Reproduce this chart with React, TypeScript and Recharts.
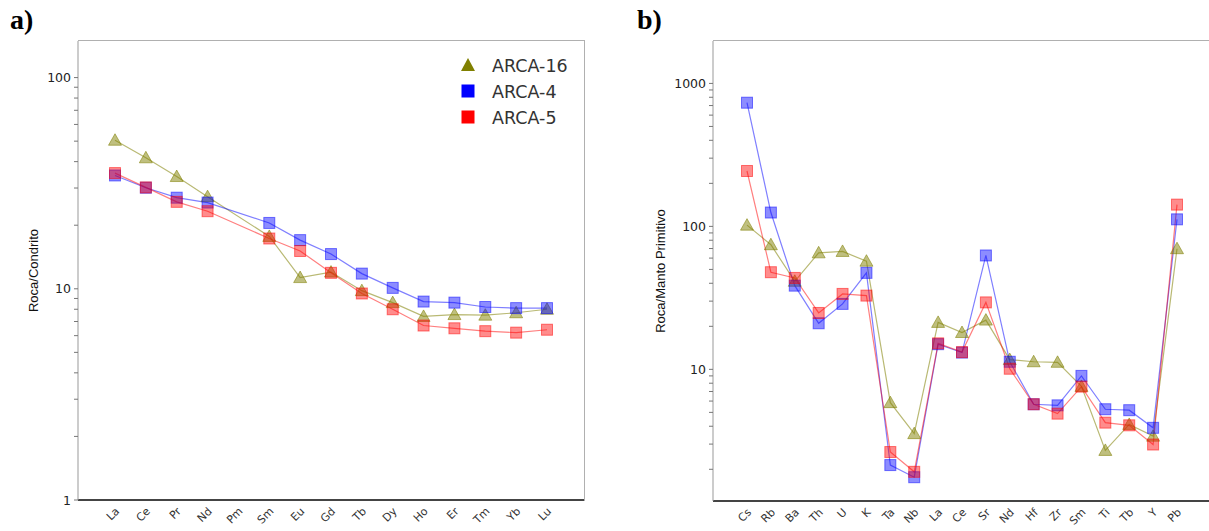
import React from 'react';
import { LineChart, Line, XAxis, YAxis, Legend } from 'recharts';

// ---- Chart a) REE normalised to chondrite ----
const reeElements = ['La', 'Ce', 'Pr', 'Nd', 'Pm', 'Sm', 'Eu', 'Gd', 'Tb', 'Dy', 'Ho', 'Er', 'Tm', 'Yb', 'Lu'];
const reeArca16 = [50.5, 41.7, 34.0, 27.3, null, 17.7, 11.3, 12.0, 9.8, 8.6, 7.4, 7.55, 7.5, 7.7, 8.0];
const reeArca4 = [34.4, 30.1, 27.0, 25.6, null, 20.5, 17.0, 14.6, 11.8, 10.1, 8.7, 8.6, 8.2, 8.1, 8.1];
const reeArca5 = [35.3, 30.2, 25.8, 23.3, null, 17.3, 15.1, 11.9, 9.5, 8.0, 6.7, 6.5, 6.3, 6.2, 6.4];
const reeDomain = [1, 149];
const reeDecades = [1, 10, 100];

// ---- Chart b) spider diagram normalised to primitive mantle ----
const spiderElements = ['Cs', 'Rb', 'Ba', 'Th', 'U', 'K', 'Ta', 'Nb', 'La', 'Ce', 'Sr', 'Nd', 'Hf', 'Zr', 'Sm', 'Ti', 'Tb', 'Y', 'Pb'];
const spiderArca16 = [102, 74.4, 41.3, 65.3, 66.8, 57.1, 5.85, 3.55, 21.3, 18.1, 22.1, 11.7, 11.3, 11.2, 7.6, 2.71, 4.12, 3.41, 69.8];
const spiderArca4 = [733, 125, 38.5, 21.0, 28.7, 47.3, 2.14, 1.76, 15.0, 13.1, 62.6, 11.3, 5.7, 5.6, 9.0, 5.26, 5.18, 3.9, 112];
const spiderArca5 = [244, 47.8, 43.6, 24.8, 33.7, 32.8, 2.64, 1.92, 15.2, 13.2, 29.4, 10.1, 5.7, 4.9, 7.57, 4.24, 4.06, 2.98, 142];
const spiderDomain = [1.2, 1980];
const spiderDecades = [1, 10, 100, 1000];

const seriesNames = ['ARCA-16', 'ARCA-4', 'ARCA-5'];

const minorTicks = (decades: number[], lo: number, hi: number) => {
  const out: number[] = [];
  decades.forEach((d) => {
    for (let m = 1; m <= 9; m++) {
      const v = d * m;
      if (v >= lo && v <= hi) out.push(v);
    }
  });
  return out;
};

const reeData = reeElements.map((el, i) => ({ el, a16: reeArca16[i], a4: reeArca4[i], a5: reeArca5[i] }));
const spiderData = spiderElements.map((el, i) => ({ el, a16: spiderArca16[i], a4: spiderArca4[i], a5: spiderArca5[i] }));

const OLIVE_FILL = 'rgba(128,128,0,0.5)';
const OLIVE_LINE = 'rgba(128,128,0,0.55)';
const BLUE_FILL = 'rgba(0,0,255,0.45)';
const BLUE_LINE = 'rgba(0,0,255,0.5)';
const RED_FILL = 'rgba(255,0,0,0.45)';
const RED_LINE = 'rgba(255,0,0,0.5)';

const makeTriangle = (fill: string, stroke: string) => (props: any) => {
  const { cx, cy, value, index } = props;
  if (cx == null || cy == null || value == null) return <g key={`t${index}`} />;
  const d = `M ${cx} ${cy - 6.5} L ${cx + 6.5} ${cy + 5} L ${cx - 6.5} ${cy + 5} Z`;
  return <path key={`t${index}`} d={d} fill={fill} stroke={stroke} strokeWidth={1} />;
};

const makeSquare = (fill: string, stroke: string) => (props: any) => {
  const { cx, cy, value, index } = props;
  if (cx == null || cy == null || value == null) return <g key={`s${index}`} />;
  return <rect key={`s${index}`} x={cx - 5.5} y={cy - 5.5} width={11} height={11} fill={fill} stroke={stroke} strokeWidth={1} />;
};

const makeYTick = (decades: number[]) => (props: any) => {
  const { x, y, payload } = props;
  const v = payload.value;
  if (!decades.includes(v)) return <g />;
  return (
    <text x={Number(x) - 1} y={Number(y)} textAnchor="end" dominantBaseline="central" fontFamily="DejaVu Sans" fontSize={12.5} fill="#222">
      {v}
    </text>
  );
};

const C45 = Math.SQRT1_2;

const renderXTick = (props: any) => {
  const { x, y, payload } = props;
  const ax = Number(x) + 5;
  const ay = Number(y) + 4;
  return (
    <text
      x={0}
      y={0}
      transform={`matrix(${C45} ${-C45} ${C45} ${C45} ${ax} ${ay})`}
      textAnchor="end"
      fontFamily="DejaVu Sans"
      fontSize={11}
      fill="#333"
    >
      {payload.value}
    </text>
  );
};

const YLabel = (props: any) => {
  const { viewBox, text, cx } = props;
  const cy = viewBox.y + viewBox.height / 2;
  return (
    <text x={cx} y={cy} transform={`rotate(-90 ${cx} ${cy})`} textAnchor="middle" dominantBaseline="central" fontFamily="Liberation Sans" fontSize={13} fill="#111">
      {text}
    </text>
  );
};

const LegendBox = () => {
  const rows = [15, 41, 67];
  return (
    <svg width={130} height={82}>
      <path d={`M 13 ${rows[0] - 7} L 20 ${rows[0] + 6} L 6 ${rows[0] + 6} Z`} fill="#808000" />
      <rect x={6.5} y={rows[1] - 6.5} width={13} height={13} fill="#0000ff" />
      <rect x={6.5} y={rows[2] - 6.5} width={13} height={13} fill="#ff0000" />
      {seriesNames.map((n, i) => (
        <text key={n} x={37} y={rows[i] + 6.5} fontFamily="DejaVu Sans" fontSize={17.5} fill="#333">
          {n}
        </text>
      ))}
    </svg>
  );
};

const panelLabel = (text: string, left: number) => (
  <div
    style={{
      position: 'absolute',
      left,
      top: 2,
      fontFamily: '"Liberation Serif", serif',
      fontWeight: 'bold',
      fontSize: 28,
      lineHeight: '36px',
      color: '#000',
    }}
  >
    {text}
  </div>
);

const frameBox = (left: number, top: number, width: number, height: number) => (
  <div
    style={{
      position: 'absolute',
      left,
      top,
      width,
      height,
      borderTop: '1.5px solid #b0b0b0',
      borderRight: '1.5px solid #b0b0b0',
      boxSizing: 'border-box',
      pointerEvents: 'none',
    }}
  />
);

export default function App() {
  const reeTicks = minorTicks(reeDecades, reeDomain[0], reeDomain[1]);
  const spiderTicks = minorTicks(spiderDecades, spiderDomain[0], spiderDomain[1]);
  return (
    <div style={{ position: 'absolute', left: 0, top: 0, width: 1209, height: 531, overflow: 'hidden', background: '#fff' }}>
      {frameBox(78, 40, 507, 461)}
      {frameBox(713, 40, 499, 461)}
      <div style={{ position: 'absolute', left: 0, top: 0 }}>
        <LineChart width={600} height={531} data={reeData} margin={{ top: 41, right: 16, bottom: 0, left: 0 }}>
          <XAxis
            dataKey="el"
            type="category"
            interval={0}
            padding={{ left: 37, right: 37 }}
            tickLine={false}
            tickSize={6}
            axisLine={{ stroke: '#444', strokeWidth: 2 }}
            height={31}
            tick={renderXTick}
          />
          <YAxis
            scale="log"
            type="number"
            domain={reeDomain}
            allowDataOverflow
            ticks={reeTicks}
            interval={0}
            width={78}
            tickSize={4}
            axisLine={{ stroke: '#999' }}
            tickLine={{ stroke: '#777' }}
            tick={makeYTick(reeDecades)}
            label={<YLabel text="Roca/Condrito" cx={33.5} />}
          />
          <Line type="linear" dataKey="a16" name={seriesNames[0]} stroke={OLIVE_LINE} strokeWidth={1.2} connectNulls dot={makeTriangle(OLIVE_FILL, OLIVE_LINE)} activeDot={false} isAnimationActive={false} />
          <Line type="linear" dataKey="a4" name={seriesNames[1]} stroke={BLUE_LINE} strokeWidth={1.2} connectNulls dot={makeSquare(BLUE_FILL, BLUE_LINE)} activeDot={false} isAnimationActive={false} />
          <Line type="linear" dataKey="a5" name={seriesNames[2]} stroke={RED_LINE} strokeWidth={1.2} connectNulls dot={makeSquare(RED_FILL, RED_LINE)} activeDot={false} isAnimationActive={false} />
          <Legend
            layout="vertical"
            align="center"
            verticalAlign="middle"
            wrapperStyle={{ left: 455, top: 50, width: 130, height: 82 }}
            content={() => <LegendBox />}
          />
        </LineChart>
      </div>
      <div style={{ position: 'absolute', left: 600, top: 0 }}>
        <LineChart width={625} height={531} data={spiderData} margin={{ top: 41, right: 14, bottom: 0, left: 0 }}>
          <XAxis
            dataKey="el"
            type="category"
            interval={0}
            padding={{ left: 34, right: 34 }}
            tickLine={false}
            tickSize={6}
            axisLine={{ stroke: '#444', strokeWidth: 2 }}
            height={30}
            tick={renderXTick}
          />
          <YAxis
            scale="log"
            type="number"
            domain={spiderDomain}
            allowDataOverflow
            ticks={spiderTicks}
            interval={0}
            width={113}
            tickSize={4}
            axisLine={{ stroke: '#999' }}
            tickLine={{ stroke: '#777' }}
            tick={makeYTick(spiderDecades)}
            label={<YLabel text="Roca/Manto Primitivo" cx={60} />}
          />
          <Line type="linear" dataKey="a16" name={seriesNames[0]} stroke={OLIVE_LINE} strokeWidth={1.2} connectNulls dot={makeTriangle(OLIVE_FILL, OLIVE_LINE)} activeDot={false} isAnimationActive={false} />
          <Line type="linear" dataKey="a4" name={seriesNames[1]} stroke={BLUE_LINE} strokeWidth={1.2} connectNulls dot={makeSquare(BLUE_FILL, BLUE_LINE)} activeDot={false} isAnimationActive={false} />
          <Line type="linear" dataKey="a5" name={seriesNames[2]} stroke={RED_LINE} strokeWidth={1.2} connectNulls dot={makeSquare(RED_FILL, RED_LINE)} activeDot={false} isAnimationActive={false} />
        </LineChart>
      </div>
      {panelLabel('a)', 10)}
      {panelLabel('b)', 637)}
    </div>
  );
}
